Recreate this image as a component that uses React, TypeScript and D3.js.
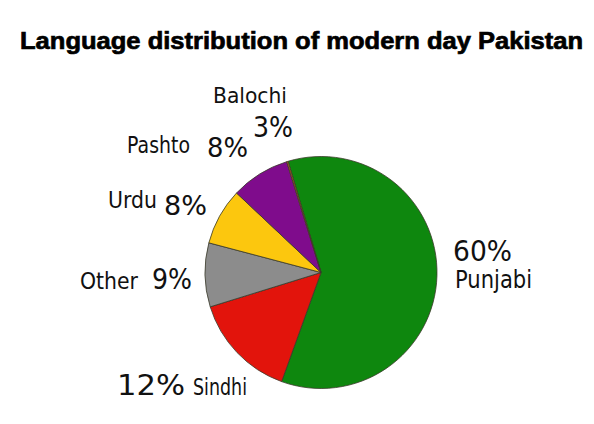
import React from "react";
import * as d3 from "d3";

const TITLE = "Language distribution of modern day Pakistan";
const languages = ["Punjabi", "Sindhi", "Other", "Urdu", "Pashto", "Balochi"];
// percentages as printed in the labels
const printedPercents = [60, 12, 9, 8, 8, 3];
// slice shares as drawn in the picture
const sliceShares = [60.1, 14.7, 8.9, 7.9, 8.2, 0.2];
const sliceColors = ["#0e870e", "#e2140c", "#8c8c8c", "#fcc70e", "#7f0c8c", "#b8581e"];

// label layout: [name x, name y, name size, name width, pct x, pct y, pct size, pct width]
const labelLayout: Record<string, number[]> = {
  Punjabi: [455, 288, 24, 77, 453, 261, 29, 59],
  Sindhi: [193, 395, 23, 54, 117, 395, 28, 68],
  Other: [80, 289, 23, 58, 152, 289, 28, 40],
  Urdu: [108, 208, 23, 49, 164, 215, 27, 43],
  Pashto: [127, 153, 23, 63, 207, 157, 27, 41],
  Balochi: [213, 103, 22, 74, 253, 137, 28, 40],
};

const W = 594;
const H = 424;
const CX = 321;
const CY = 272.5;
const R = 116;
const START = (-16.5 * Math.PI) / 180;

export default function App() {
  const data = languages.map((name, i) => ({
    name,
    share: sliceShares[i],
    pct: printedPercents[i],
    color: sliceColors[i],
  }));
  const pie = d3
    .pie<any>()
    .sort(null)
    .value((d) => d.share)
    .startAngle(START)
    .endAngle(START + 2 * Math.PI);
  const arcs = pie(data);
  const arc = d3.arc<any>().innerRadius(0).outerRadius(R);

  return (
    <svg
      width={W}
      height={H}
      style={{ position: "absolute", left: 0, top: 0, background: "#fff" }}
    >
      <rect width={W} height={H} fill="#fff" />
      <text
        x={20}
        y={49}
        fontFamily="'Liberation Sans', Arial, sans-serif"
        fontWeight="bold"
        fontSize={24}
        textLength={563}
        lengthAdjust="spacingAndGlyphs"
        fill="#000"
        stroke="#000"
        strokeWidth={0.7}
      >
        {TITLE}
      </text>
      <g transform={`translate(${CX},${CY})`}>
        {arcs.map((a, i) => (
          <path
            key={i}
            d={arc(a) as string}
            fill={a.data.color}
            stroke="#3a3a2a"
            strokeWidth={0.8}
          />
        ))}
      </g>
      {data.map((d) => {
        const L = labelLayout[d.name];
        return (
          <g key={d.name} fontFamily="'DejaVu Sans', Verdana, sans-serif" fill="#111">
            <text
              x={L[0]}
              y={L[1]}
              fontSize={L[2]}
              textLength={L[3]}
              lengthAdjust="spacingAndGlyphs"
            >
              {d.name}
            </text>
            <text
              x={L[4]}
              y={L[5]}
              fontSize={L[6]}
              textLength={L[7]}
              lengthAdjust="spacingAndGlyphs"
            >
              {`${d.pct}%`}
            </text>
          </g>
        );
      })}
    </svg>
  );
}
